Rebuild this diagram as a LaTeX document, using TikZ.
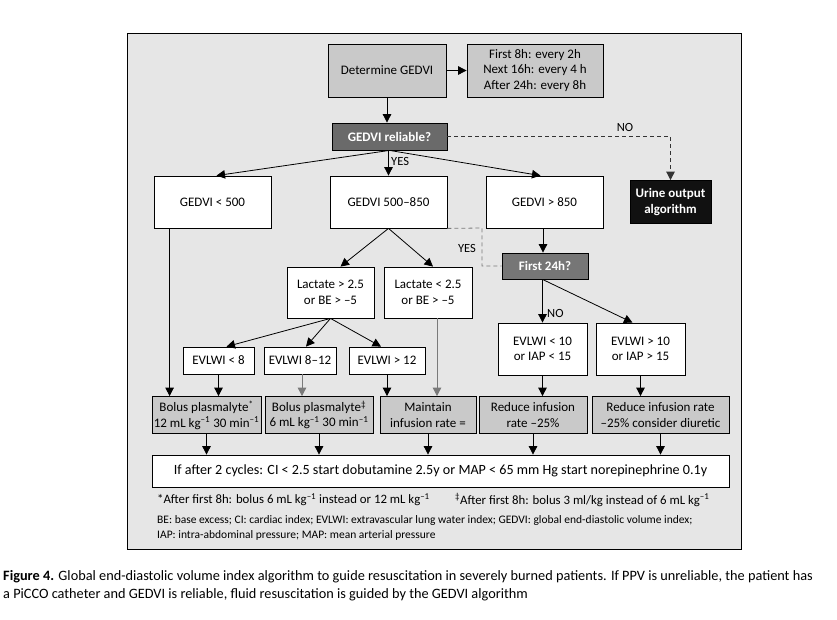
\documentclass[tikz,border=0pt]{standalone}
\usepackage{fontspec}
\setmainfont{Carlito}
\newfontfamily\capfont{Carlito}
\usetikzlibrary{arrows.meta,calc}
\definecolor{panel}{HTML}{E6E6E6}
\definecolor{boxgray}{HTML}{C9C9C9}
\definecolor{relgray}{HTML}{6A6A6A}
\definecolor{f24gray}{HTML}{767676}
\definecolor{urineblk}{HTML}{111111}
\definecolor{linegray}{HTML}{7A7A7A}
\begin{document}
\begin{tikzpicture}[x=1pt,y=-1pt,
  box/.style={draw=black, line width=0.8pt, inner sep=0pt, align=center, font=\fontsize{13}{15.5}\selectfont},
  wbox/.style={box, fill=white},
  gbox/.style={box, fill=boxgray},
  arr/.style={line width=0.8pt, -{Triangle[length=8.5pt,width=8.5pt]}},
  garr/.style={arr, draw=linegray},
  nodash/.style={line width=0.8pt, draw=black!80, dash pattern=on 4pt off 3pt},
  yesdash/.style={line width=0.8pt, draw=linegray, dash pattern=on 4pt off 3pt},
  lbl/.style={font=\fontsize{12.5}{14}\selectfont, inner sep=0pt}
]
\useasboundingbox (0,0) rectangle (837,619);
\fill[white] (0,0) rectangle (837,619);
\draw[fill=panel, line width=0.8pt] (127,33) rectangle (741,549);

% top
\node[gbox, minimum width=118, minimum height=53] (det) at (387,70.5) {Determine GEDVI};
\node[gbox, minimum width=136, minimum height=53] (sched) at (535,70.5) {First 8h: every 2h\\Next 16h: every 4 h\\After 24h: every 8h};
\node[box, fill=relgray, text=white, font=\fontsize{13}{15.5}\selectfont\bfseries, minimum width=115, minimum height=27] (rel) at (389.5,136.5) {GEDVI reliable?};
\node[box, fill=urineblk, text=white, font=\fontsize{13}{15.5}\selectfont\bfseries, minimum width=81, minimum height=43] (urine) at (670.5,202) {Urine output\\algorithm};

% second row
\node[wbox, minimum width=117, minimum height=52] (g1) at (212.5,202) {GEDVI < 500};
\node[wbox, minimum width=117, minimum height=52] (g2) at (388.5,202) {GEDVI 500–850};
\node[wbox, minimum width=117, minimum height=52] (g3) at (544.5,202) {GEDVI > 850};

\node[box, fill=f24gray, text=white, font=\fontsize{13}{15.5}\selectfont\bfseries, minimum width=86, minimum height=26] (f24) at (545,266) {First 24h?};

\node[wbox, minimum width=87, minimum height=51] (la1) at (330.5,292.5) {Lactate > 2.5\\or BE > –5};
\node[wbox, minimum width=88, minimum height=51] (la2) at (428,292.5) {Lactate < 2.5\\or BE > –5};

\node[wbox, minimum width=71, minimum height=27] (e8) at (218.5,360.5) {EVLWI < 8};
\node[wbox, minimum width=72, minimum height=27] (e812) at (300,360.5) {EVLWI 8–12};
\node[wbox, minimum width=76, minimum height=27] (e12) at (387,360.5) {EVLWI > 12};

\node[wbox, minimum width=89, minimum height=52] (ev1) at (542.5,349) {EVLWI < 10\\or IAP < 15};
\node[wbox, minimum width=89, minimum height=52] (ev2) at (640.5,349) {EVLWI > 10\\or IAP > 15};

% bottom row
\node[gbox, minimum width=109, minimum height=37] (b1) at (206.5,415) {Bolus plasmalyte\textsuperscript{*}\\12 mL kg\textsuperscript{–1} 30 min\textsuperscript{–1}};
\node[gbox, minimum width=108, minimum height=37] (b2) at (319,415) {Bolus plasmalyte\textsuperscript{‡}\\6 mL kg\textsuperscript{–1} 30 min\textsuperscript{–1}};
\node[gbox, minimum width=96, minimum height=37] (b3) at (428,415) {Maintain\\infusion rate =};
\node[gbox, minimum width=108, minimum height=37] (b4) at (533,415) {Reduce infusion\\rate –25\%};
\node[gbox, minimum width=137, minimum height=37] (b5) at (660.5,415) {Reduce infusion rate\\–25\% consider diuretic};

\node[wbox, minimum width=577, minimum height=32, font=\fontsize{14.1}{17}\selectfont] (fin) at (440.5,471) {If after 2 cycles: CI < 2.5 start dobutamine 2.5y or MAP < 65 mm Hg start norepinephrine 0.1y};

% footnotes
\node[anchor=west, inner sep=0pt, font=\fontsize{12.8}{15}\selectfont] (fn1) at (157,500) {*After first 8h: bolus 6 mL kg\textsuperscript{–1} instead or 12 mL kg\textsuperscript{–1}};
\node[anchor=west, inner sep=0pt, font=\fontsize{12.8}{15}\selectfont] (fn2) at (455,500) {\textsuperscript{‡}After first 8h: bolus 3 ml/kg instead of 6 mL kg\textsuperscript{–1}};
\node[anchor=west, inner sep=0pt, font=\fontsize{11.5}{13}\selectfont] (ab1) at (157,520) {BE: base excess; CI: cardiac index; EVLWI: extravascular lung water index; GEDVI: global end-diastolic volume index;};
\node[anchor=west, inner sep=0pt, font=\fontsize{11.5}{13}\selectfont] (ab2) at (157,535) {IAP: intra-abdominal pressure; MAP: mean arterial pressure};

% caption
\node[anchor=north west, align=left, inner sep=0pt, font=\capfont\fontsize{14.3}{18}\selectfont] (cap) at (3,570) {\textbf{Figure 4.} Global end-diastolic volume index algorithm to guide resuscitation in severely burned patients. If PPV is unreliable, the patient has\\a PiCCO catheter and GEDVI is reliable, fluid resuscitation is guided by the GEDVI algorithm};

% connectors top
\draw[arr] (det) -- (sched);
\draw[arr] (det.south) -- (det.south |- rel.north);
\draw[nodash, -{Triangle[length=8.5pt,width=8.5pt]}] (rel.east) -| (urine.north);
\node[lbl] (nolbl) at (625,127) {NO};

\draw[arr] (rel.south) -- ($(g1.north)+(4,0)$);
\coordinate (relb) at ($(rel.south)+(-1,0)$);
\draw[arr] (relb) -- (relb |- g2.north);
\draw[arr] (rel.south) -- ($(g3.north)+(-4,0)$);
\node[lbl, anchor=west] (yes1) at (391,161) {YES};

% middle
\draw[arr] (g2.south) -- ($(la1.north)+(10,0)$);
\draw[arr] (g2.south) -- ($(la2.north)+(5,0)$);
\coordinate (yc) at (482,228);
\draw[yesdash] (g2.south east) -- (yc) |- (f24.west);
\node[lbl] (yes2) at (467,248) {YES};

\coordinate (g3b) at ($(g3.south)+(-1.5,0)$);
\draw[arr] (g3b) -- (g3b |- f24.north);
\coordinate (f24b) at ($(f24.south)+(-2.5,0)$);
\draw[arr] (f24b) -- (f24b |- ev1.north);
\node[lbl, anchor=west] (no2) at (547,313) {NO};
\draw[arr] (f24b) -- ($(ev2.north)+(-8,0)$);

\draw[arr] (la1.south) -- ($(e8.north)+(8,0)$);
\draw[arr] (la1.south) -- ($(e812.north)+(6,0)$);
\draw[arr] (la1.south) -- ($(e12.north)+(-6,0)$);

% down to bottom row
\coordinate (g1b) at ($(g1.south west)+(16,0)$);
\draw[arr] (g1b) -- (g1b |- b1.north);
\draw[arr] (e8.south) -- (e8.south |- b1.north);
\coordinate (e812b) at ($(e812.south)+(2,0)$);
\draw[garr] (e812b) -- (e812b |- b2.north);
\draw[arr] (e12.south) -- (e12.south |- b3.north);
\coordinate (l2b) at ($(la2.south)+(9,0)$);
\draw[garr] (l2b) -- (l2b |- b3.north);
\draw[arr] (ev1.south) -- (ev1.south |- b4.north);
\draw[arr] (ev2.south) -- (ev2.south |- b5.north);

\foreach \b in {b1,b2,b3,b4,b5}{
  \draw[arr] (\b.south) -- (\b.south |- fin.north);
}
\end{tikzpicture}
\end{document}
